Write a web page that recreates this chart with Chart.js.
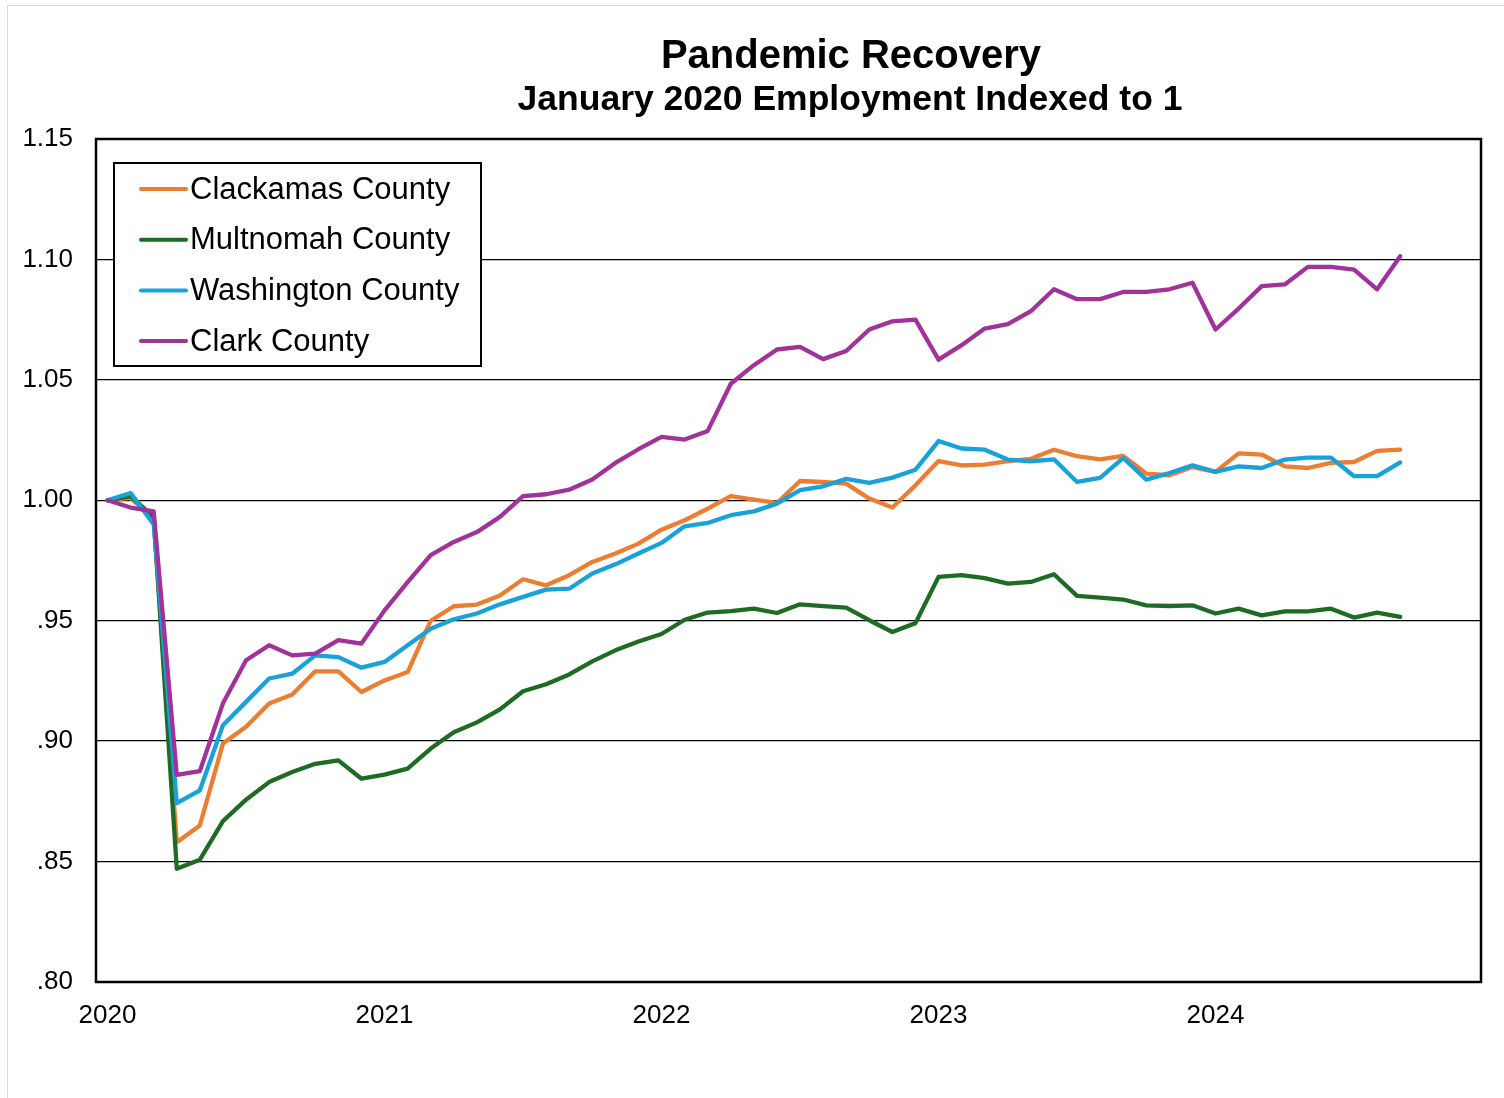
<!DOCTYPE html>
<html>
<head>
<meta charset="utf-8">
<script src="https://cdn.jsdelivr.net/npm/chart.js@4"></script>
<style>
  body { margin: 0; background: #fff; overflow: hidden; }
  #wrap { position: absolute; left: 7px; top: 5px; border-left: 1px solid #d9d9d9; border-top: 1px solid #d9d9d9; }
  canvas { display: block; }
</style>
</head>
<body>
<div id="wrap"><canvas id="chart" width="1496" height="1092"></canvas></div>
<script>
// months Jan 2020 .. Dec 2024 (data ends Sep 2024)
const months = [];
for (let y = 2020; y <= 2024; y++) {
    for (let m = 1; m <= 12; m++) {
        months.push(y + "-" + (m < 10 ? "0" + m : m));
    }
}

const seriesNames = ["Clackamas County", "Multnomah County", "Washington County", "Clark County"];
const seriesColors = ["#ED7D31", "#1E6B24", "#19A2DA", "#A1329A"];

const clackamas = [1.000, 1.001, 0.992, 0.858, 0.865, 0.899, 0.906, 0.9156, 0.9194, 0.929, 0.929, 0.9204,
    0.9252, 0.9287, 0.950, 0.956, 0.9567, 0.9605, 0.9672, 0.9647, 0.9689, 0.9744, 0.9779, 0.982,
    0.9878, 0.9917, 0.9965, 1.0017, 1.0003, 0.9989, 1.008, 1.0076, 1.0069, 1.0007, 0.997, 1.0062,
    1.0163, 1.0145, 1.0148, 1.0163, 1.0172, 1.021, 1.0183, 1.017, 1.0184, 1.0111, 1.0104, 1.0138,
    1.0118, 1.0195, 1.019, 1.0141, 1.0134, 1.0155, 1.0159, 1.0205, 1.021];

const multnomah = [1.000, 1.0017, 0.993, 0.847, 0.8508, 0.8668, 0.8757, 0.883, 0.8872, 0.8906, 0.892, 0.8844,
    0.8861, 0.8886, 0.8969, 0.9037, 0.9078, 0.9132, 0.9207, 0.9236, 0.9277, 0.9331, 0.9377, 0.9414,
    0.9445, 0.9504, 0.9534, 0.954, 0.955, 0.9532, 0.9568, 0.9561, 0.9554, 0.9502, 0.9453, 0.949,
    0.9682, 0.9689, 0.9677, 0.9654, 0.9661, 0.9693, 0.9603, 0.9596, 0.9588, 0.9564, 0.9561, 0.9564,
    0.953, 0.955, 0.9522, 0.9539, 0.9539, 0.955, 0.9513, 0.9534, 0.9516];

const washington = [1.000, 1.003, 0.990, 0.8743, 0.8796, 0.9066, 0.9163, 0.926, 0.928, 0.9356, 0.9349, 0.9305,
    0.9329, 0.9398, 0.9467, 0.9506, 0.953, 0.9568, 0.9599, 0.9629, 0.9633, 0.9696, 0.9734, 0.9779,
    0.9823, 0.9892, 0.9906, 0.9938, 0.9954, 0.9986, 1.0042, 1.0058, 1.0089, 1.0072, 1.0094, 1.0127,
    1.0246, 1.0215, 1.021, 1.0169, 1.0162, 1.017, 1.0076, 1.0093, 1.0176, 1.0086, 1.0113, 1.0145,
    1.0118, 1.0141, 1.0134, 1.0169, 1.0177, 1.0177, 1.010, 1.010, 1.0157];

const clark = [1.000, 0.997, 0.9954, 0.886, 0.8876, 0.9157, 0.9336, 0.9398, 0.9356, 0.9363, 0.9419, 0.9405,
    0.9543, 0.966, 0.9772, 0.9827, 0.9868, 0.9931, 1.0017, 1.0025, 1.0044, 1.0086, 1.0155, 1.0212,
    1.0263, 1.0252, 1.0288, 1.0484, 1.0561, 1.0626, 1.0637, 1.0586, 1.062, 1.0709, 1.0743, 1.075,
    1.0584, 1.0644, 1.0713, 1.0731, 1.0785, 1.0876, 1.0835, 1.0835, 1.0865, 1.0865, 1.0876, 1.0903,
    1.0709, 1.0796, 1.0889, 1.0896, 1.0969, 1.0969, 1.0958, 1.0876, 1.1013];

const yTicks = [0.80, 0.85, 0.90, 0.95, 1.00, 1.05, 1.10, 1.15];

const FONT = "Arial, 'Liberation Sans', sans-serif";

// title lines drawn centred over the original (wider) chart
const titlePlugin = {
    id: "titles",
    afterDraw(chart) {
        const ctx = chart.ctx;
        ctx.save();
        ctx.fillStyle = "#000";
        ctx.textAlign = "center";
        ctx.textBaseline = "alphabetic";
        ctx.font = "bold 40px " + FONT;
        ctx.fillText("Pandemic Recovery", 843, 62);
        ctx.font = "bold 35.5px " + FONT;
        ctx.fillText("January 2020 Employment Indexed to 1", 842, 104);
        ctx.restore();
    }
};

// plot frame and boxed legend inside the plot area
const framePlugin = {
    id: "frame",
    afterDatasetsDraw(chart) {
        const ctx = chart.ctx;
        const a = chart.chartArea;
        ctx.save();
        ctx.strokeStyle = "#000";
        ctx.lineWidth = 2.5;
        ctx.strokeRect(a.left, a.top, a.right - a.left, a.bottom - a.top);

        const bx = a.left + 18, by = a.top + 24, bw = 367, bh = 203;
        ctx.fillStyle = "#fff";
        ctx.fillRect(bx, by, bw, bh);
        ctx.lineWidth = 2;
        ctx.strokeRect(bx, by, bw, bh);

        ctx.font = "31px " + FONT;
        ctx.textBaseline = "middle";
        ctx.textAlign = "left";
        chart.data.datasets.forEach((ds, i) => {
            const cy = by + 26 + i * 50.7;
            ctx.strokeStyle = ds.borderColor;
            ctx.lineWidth = 4;
            ctx.lineCap = "round";
            ctx.beginPath();
            ctx.moveTo(bx + 27, cy);
            ctx.lineTo(bx + 72, cy);
            ctx.stroke();
            ctx.fillStyle = "#000";
            ctx.fillText(ds.label, bx + 76, cy + 1);
        });
        ctx.restore();
    }
};

const seriesData = [clackamas, multnomah, washington, clark];
const drawOrder = [3, 2, 1, 0];

const datasets = seriesNames.map((name, i) => ({
    label: name,
    data: seriesData[i],
    borderColor: seriesColors[i],
    backgroundColor: seriesColors[i],
    borderWidth: 4.3,
    pointRadius: 0,
    tension: 0,
    borderJoinStyle: "round",
    borderCapStyle: "round",
    order: drawOrder[i]
}));

new Chart(document.getElementById("chart"), {
    type: "line",
    data: { labels: months, datasets: datasets },
    options: {
        responsive: false,
        animation: false,
        devicePixelRatio: 1,
        layout: { padding: { top: 133, right: 23, left: 0, bottom: 0 } },
        plugins: {
            legend: { display: false },
            title: { display: false },
            tooltip: { enabled: false }
        },
        scales: {
            x: {
                type: "category",
                offset: true,
                grid: { display: false, drawTicks: false },
                border: { display: false },
                afterFit(scale) { scale.height = 116; },
                ticks: {
                    autoSkip: false,
                    maxRotation: 0,
                    padding: 18,
                    color: "#000",
                    font: { family: FONT, size: 26 },
                    callback: function(value) {
                        const lbl = months[value];
                        return lbl.endsWith("-01") ? lbl.slice(0, 4) : "";
                    }
                }
            },
            y: {
                min: 0.80,
                max: 1.15,
                afterFit(scale) { scale.width = 88; },
                afterBuildTicks(scale) { scale.ticks = yTicks.map(v => ({ value: v })); },
                grid: { color: "#000", lineWidth: 1.3, drawTicks: false },
                border: { display: false },
                ticks: {
                    padding: 23,
                    color: "#000",
                    font: { family: FONT, size: 26, lineHeight: 1.05 },
                    callback: function(value) {
                        const s = value.toFixed(2);
                        return value < 1 ? s.slice(1) : s;
                    }
                }
            }
        }
    },
    plugins: [titlePlugin, framePlugin]
});
</script>
</body>
</html>
